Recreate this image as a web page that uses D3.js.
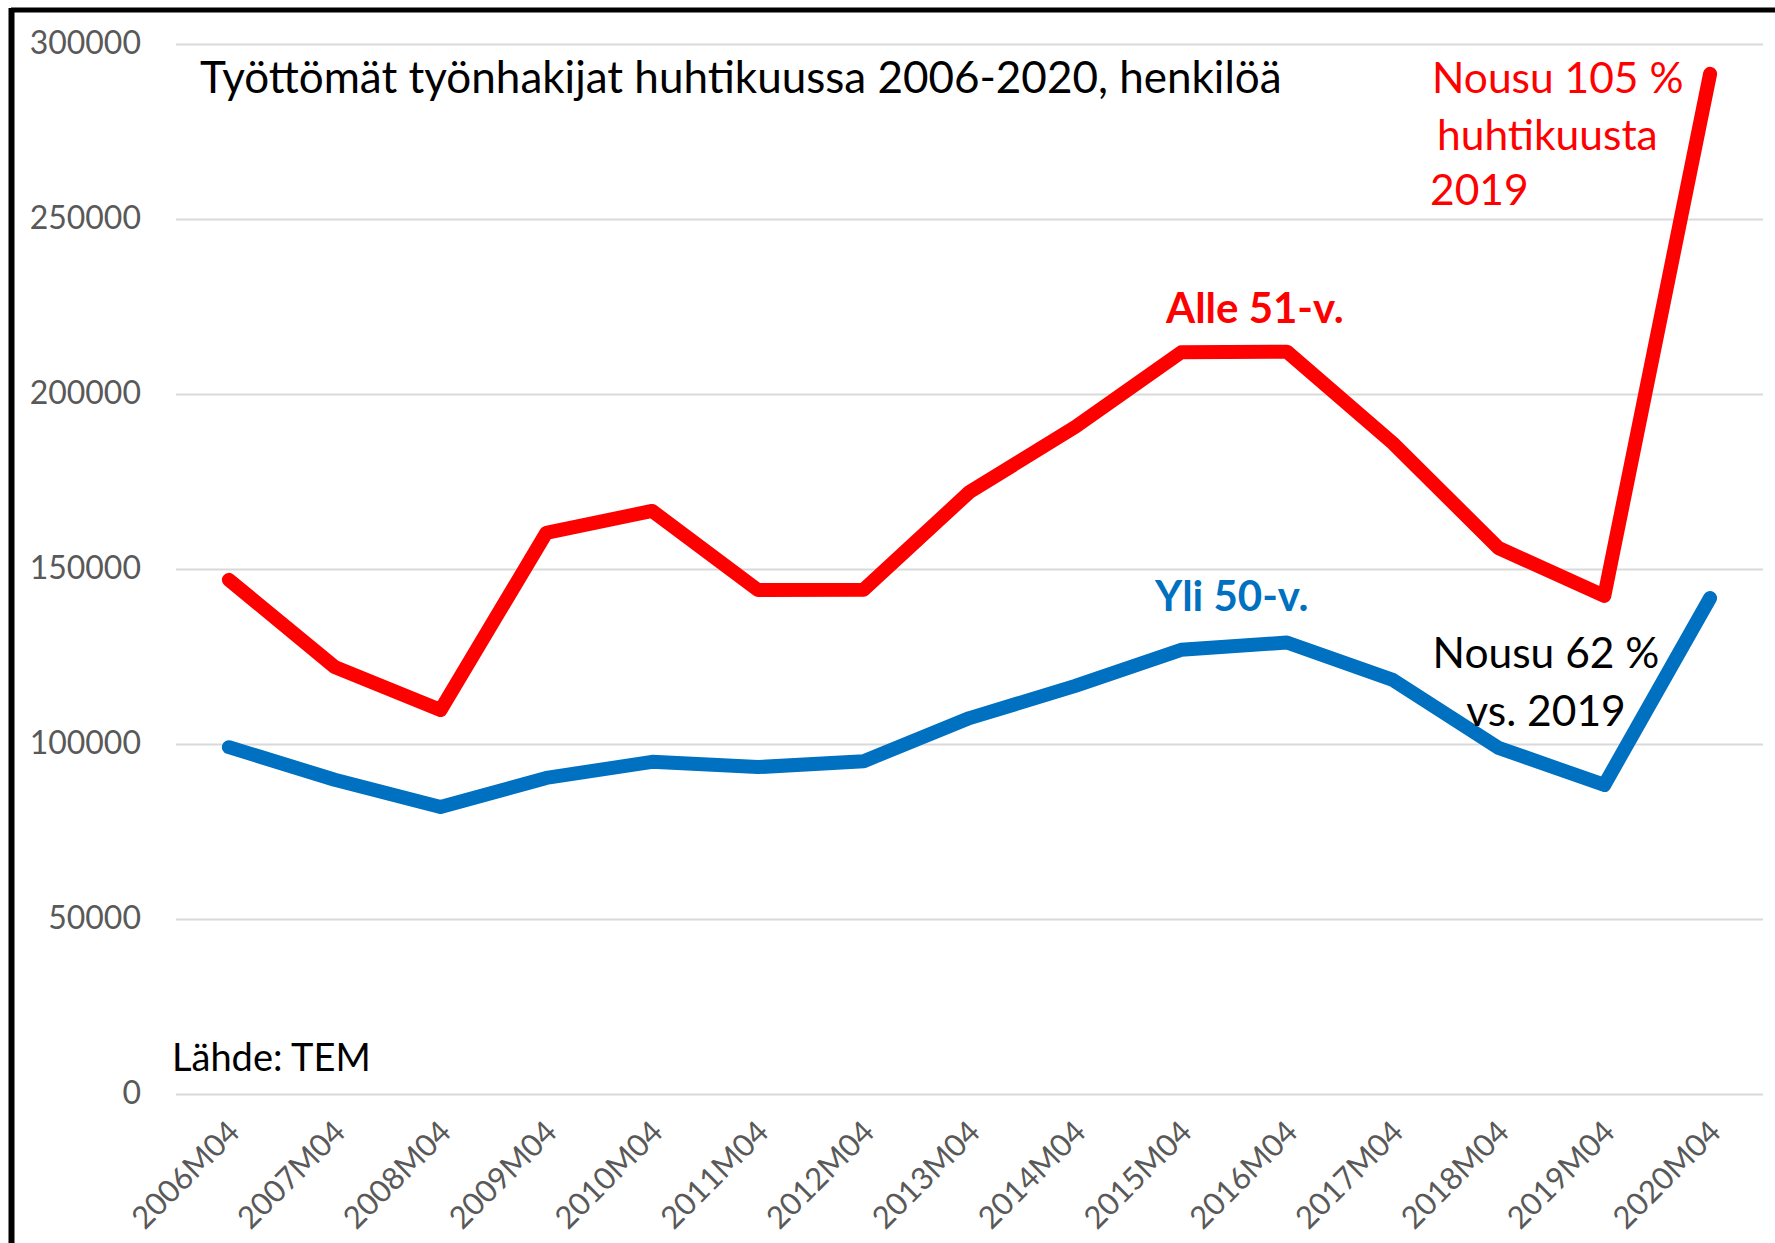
<!DOCTYPE html>
<html>
<head>
<meta charset="utf-8">
<script src="https://cdnjs.cloudflare.com/ajax/libs/d3/7.8.5/d3.min.js"></script>
<style>
  body { margin: 0; background: #fff; }
  text { font-family: Lato, "Open Sans", sans-serif; }
</style>
</head>
<body>
<div class="chart"></div>
<script>
var svgWidth = 1775;
var svgHeight = 1243;

// Data
var categories = ["2006M04", "2007M04", "2008M04", "2009M04", "2010M04", "2011M04", "2012M04",
  "2013M04", "2014M04", "2015M04", "2016M04", "2017M04", "2018M04", "2019M04", "2020M04"];
var alle51 = [146900, 122000, 109700, 160300, 166600, 144000, 144100, 172000, 190600, 211900,
  212100, 186000, 156000, 142300, 291500];
var yli50 = [99100, 89800, 82000, 90300, 94900, 93400, 95100, 107400, 116600, 126900,
  129000, 118300, 98900, 88300, 141700];
var yTicks = [0, 50000, 100000, 150000, 200000, 250000, 300000];

var plot = { left: 176, right: 1763, top: 44, bottom: 1094 };

var svg = d3.select(".chart")
  .append("svg")
  .attr("width", svgWidth)
  .attr("height", svgHeight);

// frame (only top and left edges show in the picture)
svg.append("line")
  .attr("x1", 11).attr("x2", svgWidth).attr("y1", 10).attr("y2", 10)
  .attr("stroke", "#000").attr("stroke-width", 5);
svg.append("line")
  .attr("x1", 11.5).attr("x2", 11.5).attr("y1", 8).attr("y2", svgHeight)
  .attr("stroke", "#000").attr("stroke-width", 6);

// Scales
var x = d3.scalePoint()
  .domain(categories)
  .range([plot.left, plot.right])
  .padding(0.5);

var y = d3.scaleLinear()
  .domain([0, 300000])
  .range([plot.bottom, plot.top]);

// Gridlines + y labels
var yAxis = d3.axisLeft(y)
  .tickValues(yTicks)
  .tickSize(-(plot.right - plot.left))
  .tickPadding(35)
  .tickFormat(d3.format("d"));

var yG = svg.append("g")
  .attr("transform", `translate(${plot.left}, 0)`)
  .call(yAxis);
yG.select(".domain").remove();
yG.selectAll(".tick line").attr("stroke", "#d9d9d9").attr("stroke-width", 2);
yG.selectAll(".tick text")
  .attr("fill", "#595959")
  .attr("dy", "0.3em")
  .style("font-size", "32px")
  .style("font-family", "Lato, sans-serif");

// x labels, rotated
var xAxis = d3.axisBottom(x).tickSize(0).tickPadding(0);
var xG = svg.append("g")
  .attr("transform", `translate(0, ${plot.bottom})`)
  .call(xAxis);
xG.select(".domain").remove();
xG.selectAll(".tick text")
  .attr("fill", "#595959")
  .style("font-size", "31px")
  .style("font-family", "Lato, sans-serif")
  .attr("text-anchor", "end")
  .attr("dy", null)
  .attr("y", null)
  .attr("transform", "translate(12, 40) rotate(-45)");

// Lines
var line = d3.line()
  .x((d, i) => x(categories[i]))
  .y(d => y(d));

svg.append("path")
  .datum(yli50)
  .attr("d", line)
  .attr("fill", "none")
  .attr("stroke", "#0070c0")
  .attr("stroke-width", 14)
  .attr("stroke-linejoin", "round")
  .attr("stroke-linecap", "round");

svg.append("path")
  .datum(alle51)
  .attr("d", line)
  .attr("fill", "none")
  .attr("stroke", "#ff0000")
  .attr("stroke-width", 14)
  .attr("stroke-linejoin", "round")
  .attr("stroke-linecap", "round");

// Texts
svg.append("text")
  .attr("x", 200).attr("y", 93)
  .style("font-size", "44px")
  .attr("fill", "#000")
  .text("Työttömät työnhakijat huhtikuussa 2006-2020, henkilöä");

svg.append("text")
  .attr("x", 1166).attr("y", 323)
  .style("font-size", "42px").style("font-weight", "bold")
  .attr("fill", "#ff0000")
  .text("Alle 51-v.");

svg.append("text")
  .attr("x", 1155).attr("y", 611)
  .style("font-size", "42px").style("font-weight", "bold")
  .attr("fill", "#0070c0")
  .text("Yli 50-v.");

var redNote = [["Nousu 105 %", 1432, 93], ["huhtikuusta", 1437, 150], ["2019", 1430, 205]];
svg.selectAll(".rednote")
  .data(redNote)
  .enter()
  .append("text")
  .attr("class", "rednote")
  .attr("x", d => d[1]).attr("y", d => d[2])
  .style("font-size", "42.5px")
  .attr("fill", "#ff0000")
  .text(d => d[0]);

var blackNote = [["Nousu 62 %", 668], ["vs. 2019", 726]];
svg.selectAll(".blacknote")
  .data(blackNote)
  .enter()
  .append("text")
  .attr("class", "blacknote")
  .attr("x", 1546).attr("y", d => d[1])
  .attr("text-anchor", "middle")
  .style("font-size", "42.5px")
  .attr("fill", "#000")
  .text(d => d[0]);

svg.append("text")
  .attr("x", 172).attr("y", 1071)
  .style("font-size", "38px")
  .attr("fill", "#000")
  .text("Lähde: TEM");
</script>
</body>
</html>
